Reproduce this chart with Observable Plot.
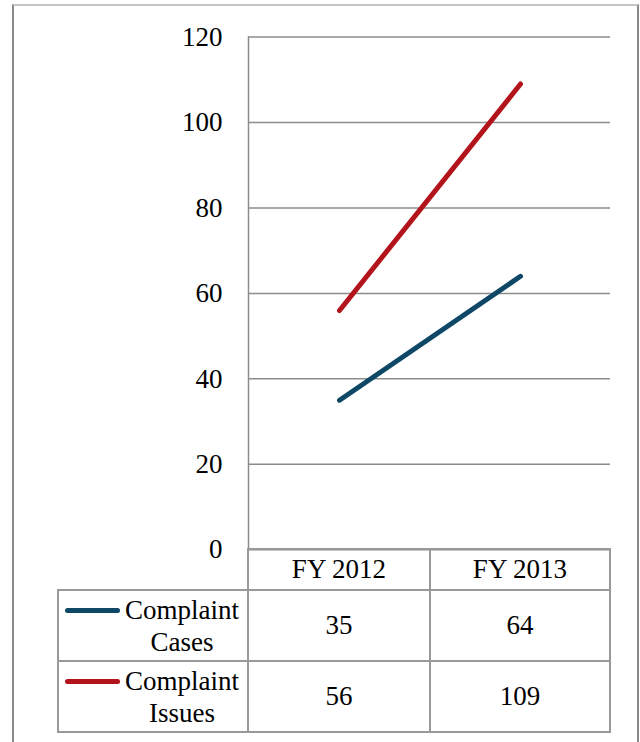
<!DOCTYPE html>
<html>
<head>
<meta charset="utf-8">
<script src="https://cdn.jsdelivr.net/npm/d3@7"></script>
<script src="https://cdn.jsdelivr.net/npm/@observablehq/plot@0.6"></script>
<style>
  body { margin: 0; background: #fff; font-family: "Liberation Serif", serif; }
  #page { position: relative; width: 640px; height: 742px; overflow: hidden; }
  #frame {
    position: absolute; left: 12px; top: 4px; width: 623px; height: 800px;
    border-top: 2px solid #c4c4c4; border-left: 2px solid #8a8a8a; border-right: 2px solid #8a8a8a;
  }
  #chart { position: absolute; left: 0; top: 0; }
  #tbl {
    position: absolute; left: 57px; top: 548px; border-collapse: collapse;
    font-size: 27px; color: #000; table-layout: fixed;
  }
  #tbl td { border: 2px solid #999; text-align: center; padding: 0; vertical-align: middle; }
  #tbl td.blank { border-top: none; border-left: none; }
  #tbl tr.head td { height: 39px; }
  #tbl tr.data td { height: 69px; }
  .lab { display: flex; align-items: flex-start; }
  .sw { display: inline-block; width: 55px; height: 5px; border-radius: 3px; margin: 14px 0 0 6px; flex: none; }
  .txt { width: 124px; line-height: 32px; text-align: center; }
</style>
</head>
<body>
<div id="page">
  <div id="frame"></div>
  <div id="chart"></div>
  <table id="tbl"></table>
</div>
<script>
// Fiscal years on the x axis
const years = ["FY 2012", "FY 2013"];
// Series names and their values per year
const seriesNames = ["Complaint Cases", "Complaint Issues"];
const complaintCases = [35, 64];
const complaintIssues = [56, 109];
const seriesColors = ["#0e4866", "#b3131a"];
// Y axis ticks
const yTicks = [0, 20, 40, 60, 80, 100, 120];

const seriesValues = [complaintCases, complaintIssues];
const rows = seriesNames.flatMap((s, i) =>
  years.map((year, j) => ({series: s, year, value: seriesValues[i][j]}))
);

const chart = Plot.plot({
  width: 640,
  height: 742,
  marginLeft: 248,
  marginRight: 30,
  marginTop: 36.5,
  marginBottom: 192.7,
  style: {fontFamily: "Liberation Serif, serif", fontSize: "27px", color: "#000", background: "transparent"},
  x: {type: "point", domain: years, padding: 0.5, axis: null},
  y: {domain: [0, 120]},
  color: {domain: seriesNames, range: seriesColors},
  marks: [
    Plot.ruleY(yTicks, {stroke: "#8c8c8c", strokeWidth: 1.5}),
    Plot.frame({anchor: "left", stroke: "#8c8c8c", strokeWidth: 1.5}),
    Plot.axisY(yTicks, {tickSize: 0, tickPadding: 26, label: null, fontSize: 27, fill: "#000"}),
    Plot.line(rows, {x: "year", y: "value", z: "series", stroke: "series", strokeWidth: 5, strokeLinecap: "round"})
  ]
});
document.getElementById("chart").append(chart);

// Data table with legend swatches below the plot
const tbl = d3.select("#tbl");
const cg = tbl.append("colgroup");
[190, 182, 180].forEach(w => cg.append("col").style("width", w + "px"));
const head = tbl.append("tr").attr("class", "head");
head.append("td").attr("class", "blank");
years.forEach(y => head.append("td").text(y));
seriesNames.forEach((name, i) => {
  const tr = tbl.append("tr").attr("class", "data");
  const lab = tr.append("td").append("div").attr("class", "lab");
  lab.append("span").attr("class", "sw").style("background", seriesColors[i]);
  const [w1, w2] = name.split(" ");
  lab.append("span").attr("class", "txt").html(w1 + "<br>" + w2);
  seriesValues[i].forEach(v => tr.append("td").text(v));
});
</script>
</body>
</html>
